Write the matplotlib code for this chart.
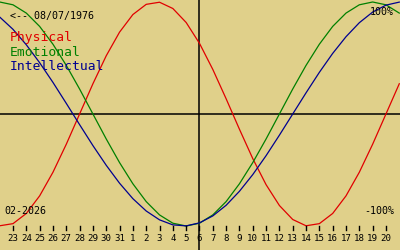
import numpy as np
import matplotlib
matplotlib.use('Agg')
import matplotlib.pyplot as plt

# Day labels along the bottom (23 Jan .. 20 Feb), curves sampled 22 Jan .. 21 Feb
day_labels = [23, 24, 25, 26, 27, 28, 29, 30, 31, 1, 2, 3, 4, 5, 6, 7, 8, 9, 10,
              11, 12, 13, 14, 15, 16, 17, 18, 19, 20]
today_index = 14  # the 6th, where the vertical line sits

physical = [-0.998, -0.979, -0.888, -0.731, -0.520, -0.270, 0.0, 0.270, 0.520, 0.731,
            0.888, 0.979, 0.998, 0.942, 0.817, 0.631, 0.398, 0.136, -0.136, -0.398,
            -0.631, -0.817, -0.942, -0.998, -0.979, -0.888, -0.731, -0.520, -0.270,
            0.0, 0.270]
emotional = [1.0, 0.975, 0.901, 0.782, 0.623, 0.434, 0.223, 0.0, -0.223, -0.434,
             -0.623, -0.782, -0.901, -0.975, -1.0, -0.975, -0.901, -0.782, -0.623,
             -0.434, -0.223, 0.0, 0.223, 0.434, 0.623, 0.782, 0.901, 0.975, 1.0,
             0.975, 0.901]
intellectual = [0.866, 0.756, 0.618, 0.458, 0.282, 0.095, -0.095, -0.282, -0.458,
                -0.618, -0.756, -0.866, -0.945, -0.990, -0.999, -0.972, -0.910,
                -0.815, -0.690, -0.541, -0.372, -0.189, 0.0, 0.189, 0.372, 0.541,
                0.690, 0.815, 0.910, 0.972, 0.999]

bg = '#E0D08A'
red = '#E00000'
green = '#008000'
blue = '#000090'
mono = 'DejaVu Sans Mono'

# pixel row -> data value (curve centre at row 114, amplitude 112 px)
def px(row):
    return (114 - row) / 112.0

x_left = -13 / 13.32  # data x of the left figure edge

fig = plt.figure(figsize=(4, 2.5), dpi=100)
fig.patch.set_facecolor(bg)
ax = fig.add_axes([0, 0, 1, 1])
ax.set_xlim(x_left, 387 / 13.32)
ax.set_ylim(px(250), px(0))
ax.axis('off')

idx = np.arange(-1, len(physical) - 1)
ax.axhline(0, color='black', lw=1.1)
ax.axvline(today_index, color='black', lw=1.1)
ax.plot(idx, physical, color=red, lw=0.9)
ax.plot(idx, emotional, color=green, lw=0.9)
ax.plot(idx, intellectual, color=blue, lw=0.9)

# day ticks and labels
for i, d in enumerate(day_labels):
    ax.plot([i, i], [px(226), px(230)], color='black', lw=1.0)
    ax.text(i, px(238), str(d), ha='center', va='center', fontsize=6.6,
            family=mono, color='black')

lx = x_left + 10 / 13.32
ax.text(lx, px(16.5), '<-- 08/07/1976', ha='left', va='center', fontsize=7.2,
        family=mono, color='black')
ax.text(lx, px(37), 'Physical', ha='left', va='center', fontsize=9.4, family=mono, color=red)
ax.text(lx, px(52), 'Emotional', ha='left', va='center', fontsize=9.4, family=mono, color=green)
ax.text(lx, px(67), 'Intellectual', ha='left', va='center', fontsize=9.4, family=mono, color=blue)

ax.text(x_left + 4 / 13.32, px(211.5), '02-2026', ha='left', va='center',
        fontsize=7.2, family=mono, color='black')
ax.text(381 / 13.32, px(211.5), '-100%', ha='right', va='center', fontsize=7.2,
        family=mono, color='black')
ax.text(381 / 13.32, px(12), '100%', ha='right', va='center', fontsize=7.2,
        family=mono, color='black')

fig.savefig('out.png', dpi=100, facecolor=bg)
